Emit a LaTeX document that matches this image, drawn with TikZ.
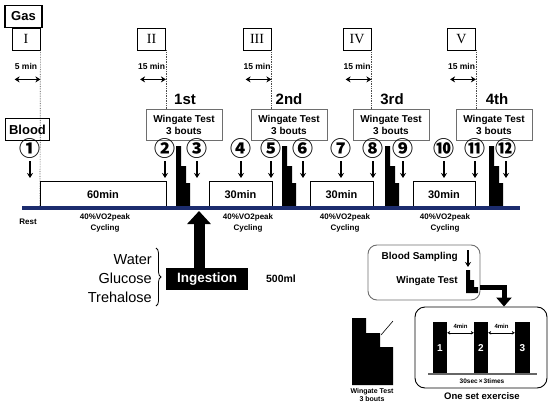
\documentclass[tikz,border=0pt]{standalone}
\usepackage{fontspec}
\setmainfont{Liberation Sans}
\newfontfamily\romfont{Liberation Serif}
\newfontfamily\cjk{Noto Sans CJK JP}
\usetikzlibrary{arrows.meta,decorations.pathreplacing}
\definecolor{navy}{RGB}{28,44,110}
\definecolor{boxgray}{RGB}{110,110,110}
\tikzset{
  fs/.style={font=\bfseries\fontsize{#1}{#1}\selectfont},
  tagbox/.style={draw=black, line width=1.6pt, inner sep=0pt, fs=13, minimum height=22pt},
  rombox/.style={draw, line width=0.8pt, inner sep=0pt, minimum width=28pt, minimum height=22pt, font=\romfont\fontsize{14}{14}\selectfont},
  wbox/.style={draw=boxgray, line width=0.8pt, inner sep=0pt, align=center, fs=10, minimum width=76pt, minimum height=31pt},
  tbox/.style={draw, line width=0.8pt, inner sep=0pt, fs=11, minimum height=27pt},
  dotline/.style={densely dotted, line width=0.7pt, black!70},
  darr/.style={{Stealth[length=5pt,width=6pt]}-{Stealth[length=5pt,width=6pt]}, line width=1.3pt},
  sarr/.style={-{Stealth[length=5pt,width=6pt]}, line width=1.3pt},
  circnum/.style={font=\cjk\bfseries\fontsize{21}{21}\selectfont, inner sep=0pt},
  small/.style={fs=8, align=center, inner sep=0pt},
  wg/.pic={\fill (0,0) -- (0,-61) -- (5,-61) -- (5,-41) -- (10,-41) -- (10,-24) -- (14,-24) -- (14,0) -- cycle;}
}
\begin{document}
\begin{tikzpicture}[x=1pt,y=-1pt]
\useasboundingbox (0,0) rectangle (550,407);

% Gas / roman boxes
\node[rombox] (r1) at (26,39) {I};
\node[rombox] (r2) at (151.5,39) {II};
\node[rombox] (r3) at (257,39) {III};
\node[rombox] (r4) at (357,39) {IV};
\node[rombox] (r5) at (461.5,39) {V};
\node[tagbox, minimum width=37pt] (gas) at (23.5,16.5) {Gas};

% min labels and arrows
\foreach \r/\t in {r1/5 min, r2/15 min, r3/15 min, r4/15 min, r5/15 min}{
  \node[fs=8.5, inner sep=0pt] (\r l) at ([yshift=-16pt]\r.south) {\t};
  \coordinate (\r a) at ([xshift=3pt,yshift=-29pt]\r.south west);
  \coordinate (\r b) at ([yshift=-29pt]\r.south east);
  \draw[darr] (\r a) -- (\r b);
}

% Wingate boxes
\node[wbox] (w1) at (184,124.5) {Wingate Test\\[2pt]3 bouts};
\node[wbox] (w2) at (289,124.5) {Wingate Test\\[2pt]3 bouts};
\node[wbox] (w3) at (391,124.5) {Wingate Test\\[2pt]3 bouts};
\node[wbox] (w4) at (494,124.5) {Wingate Test\\[2pt]3 bouts};
\node[fs=15, inner sep=0pt] (o1) at (185,99) {1st};
\node[fs=15, inner sep=0pt] (o2) at (289,99) {2nd};
\node[fs=15, inner sep=0pt] (o3) at (392,99) {3rd};
\node[fs=15, inner sep=0pt] (o4) at (497,99) {4th};

% dotted lines
\coordinate (t0) at (40,208);
\draw[dotline] (r1.south east) -- (t0);
\draw[dotline] (r2.south east) -- (w1.north -| r2.south east);
\draw[dotline] (r3.south east) -- (w2.north -| r3.south east);
\draw[dotline] (r4.south east) -- (w3.north -| r4.south east);
\draw[dotline] (r5.south east) -- (w4.north -| r5.south east);

% Blood
\node[tagbox, minimum width=44pt] (blood) at (27.5,129.5) {Blood};

% cycling boxes
\node[tbox, minimum width=126pt] (b60) at (103,194.5) {60min};
\node[tbox, minimum width=63pt] (b30a) at (240.5,194.5) {30min};
\node[tbox, minimum width=63pt] (b30b) at (341.5,194.5) {30min};
\node[tbox, minimum width=62pt] (b30c) at (444,194.5) {30min};

% Wingate bars
\pic at (176,207) {wg};
\pic at (282,207) {wg};
\pic at (385,207) {wg};
\pic at (489,207) {wg};

% timeline
\coordinate (tl0) at (22,208);
\coordinate (tl1) at (520,208);
\draw[navy, line width=4pt] (tl0) -- (tl1);

% circled numbers with arrows
\foreach \n/\x/\s in {1/30/①, 2/165/②, 3/197/③, 4/241/④, 5/271/⑤, 6/303/⑥, 7/341/⑦, 8/373/⑧, 9/403/⑨, 10/444/⑩, 11/475/⑪, 12/506/⑫}{
  \node[circnum] (c\n) at (\x,149) {\s};
  \coordinate (e\n) at (\x,178);
  \draw[sarr] ([yshift=-2pt]c\n.south) -- (e\n);
}

% labels below the timeline
\node[small] (rest) at (28,222) {Rest};
\node[small] (cy1) at (105,223) {40\%VO2peak\\[3pt]Cycling};
\node[small] (cy2) at (248,223) {40\%VO2peak\\[3pt]Cycling};
\node[small] (cy3) at (345,223) {40\%VO2peak\\[3pt]Cycling};
\node[small] (cy4) at (445,223) {40\%VO2peak\\[3pt]Cycling};

% ingestion
\node[fill=black, text=white, fs=13.5, minimum width=82pt, minimum height=22pt, inner sep=0pt] (ing) at (207,279) {Ingestion};
\coordinate (ingtip) at (199,211);
\draw[line width=11pt, -{Triangle[width=23pt,length=13pt]}] (ing.north -| ingtip) -- (ingtip);
\node[fs=10.5, inner sep=0pt] (ml) at (281,279) {500ml};
\node[anchor=east, font=\fontsize{14.5}{14.5}\selectfont, inner sep=0pt] (water) at (152,260) {Water};
\node[anchor=east, font=\fontsize{14.5}{14.5}\selectfont, inner sep=0pt] (glu) at (152,278.5) {Glucose};
\node[anchor=east, font=\fontsize{14.5}{14.5}\selectfont, inner sep=0pt] (tre) at (152,297) {Trehalose};
\coordinate (br0) at (156,248);
\coordinate (br1) at (156,306);
\draw[line width=0.8pt, decorate, decoration={brace, amplitude=5pt}] (br0) -- (br1);

% legend
\node[draw=boxgray, line width=0.9pt, rounded corners=9pt, minimum width=112pt, minimum height=55pt] (leg) at (424,272.5) {};
\node[anchor=east, fs=10, inner sep=0pt] (lbs) at (458,257) {Blood Sampling};
\node[anchor=east, fs=10, inner sep=0pt] (lwt) at (458,281) {Wingate Test};
\coordinate (la0) at (468,250);
\coordinate (la1) at (468,267);
\draw[sarr] (la0) -- (la1);
\fill (466,293) -- (466,270) -- (470,270) -- (470,280) -- (474,280) -- (474,287) -- (478,287) -- (478,293) -- cycle;

% one set exercise box
\node[draw, line width=0.9pt, rounded corners=10pt, minimum width=132pt, minimum height=81pt] (set) at (481,347.5) {};
\coordinate (ea0) at (leg.east |- 0,287);
\coordinate (ea1) at (504,287);
\draw[line width=5pt, -{Triangle[width=15pt,length=9pt]}] (ea0) -- (ea1) -- (ea1 |- set.north);
\node[fill=black, text=white, fs=10, minimum width=14pt, minimum height=52pt, inner sep=0pt] (s1) at (440,348) {1};
\node[fill=black, text=white, fs=10, minimum width=14pt, minimum height=52pt, inner sep=0pt] (s2) at (481,348) {2};
\node[fill=black, text=white, fs=10, minimum width=15pt, minimum height=52pt, inner sep=0pt] (s3) at (522.5,348) {3};
\coordinate (bl0) at (428,374);
\coordinate (bl1) at (537,374);
\draw[line width=1.5pt, black!60] (bl0) -- (bl1);
\draw[{Stealth[length=3pt,width=3.5pt]}-{Stealth[length=3pt,width=3.5pt]}, line width=0.6pt] ([yshift=-11pt]s1.north east) -- ([yshift=-11pt]s2.north west) node[midway, above=1pt, fs=6] (m1) {4min};
\draw[{Stealth[length=3pt,width=3.5pt]}-{Stealth[length=3pt,width=3.5pt]}, line width=0.6pt] ([yshift=-11pt]s2.north east) -- ([yshift=-11pt]s3.north west) node[midway, above=1pt, fs=6] (m2) {4min};
\node[fs=6.5, inner sep=0pt] (sec) at (482,381) {30sec\,×\,3times};
\node[fs=9.5, inner sep=0pt] (ose) at (482,396.5) {One set exercise};

% big Wingate bars
\fill (352,385) -- (352,318) -- (366,318) -- (366,333) -- (380,333) -- (380,347) -- (393,347) -- (393,385) -- cycle;
\coordinate (zl0) at (381,335);
\coordinate (zl1) at (393,321);
\draw[line width=0.6pt] (zl0) -- (zl1);
\node[fs=7, align=center, inner sep=0pt] (bwt) at (372,395.5) {Wingate Test\\[1pt]3 bouts};
\end{tikzpicture}
\end{document}
